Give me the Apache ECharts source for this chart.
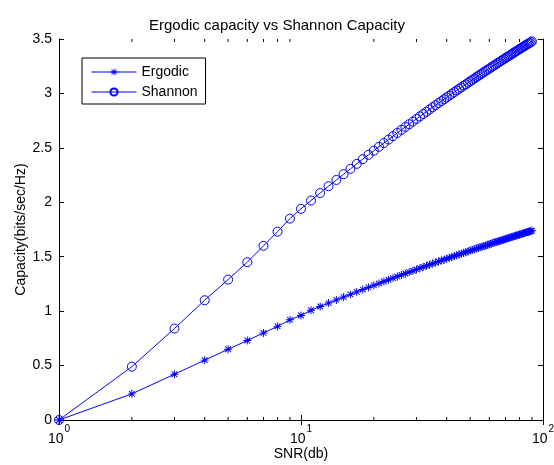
<!DOCTYPE html>
<html>
<head>
<meta charset="utf-8">
<script src="https://cdn.jsdelivr.net/npm/echarts@6/dist/echarts.min.js"></script>
<style>html,body{margin:0;padding:0;background:#fff;}#c{width:554px;height:465px;}</style>
</head>
<body>
<div id="c"></div>
<script>
const snr = [1,2,3,4,5,6,7,8,9,10,11,12,13,14,15,16,17,18,19,20,21,22,23,24,25,26,27,28,29,30,
31,32,33,34,35,36,37,38,39,40,41,42,43,44,45,46,47,48,49,50,51,52,53,54,55,56,57,58,59,60,
61,62,63,64,65,66,67,68,69,70,71,72,73,74,75,76,77,78,79,80,81,82,83,84,85,86,87,88,89,90];
const shannon = [0,0.49,0.84,1.10,1.29,1.45,1.60,1.73,1.85,1.94,2.016,2.085,2.148,2.205,2.258,2.307,2.353,2.396,2.436,2.474,
2.510,2.544,2.576,2.607,2.637,2.665,2.692,2.717,2.742,2.766,2.789,2.811,2.832,2.853,2.873,2.892,2.911,2.929,2.946,2.963,
2.980,2.996,3.012,3.027,3.042,3.056,3.071,3.084,3.098,3.111,3.124,3.136,3.149,3.161,3.173,3.184,3.196,3.207,3.218,3.228,
3.239,3.249,3.259,3.269,3.279,3.288,3.298,3.307,3.316,3.325,3.334,3.342,3.351,3.359,3.367,3.376,3.384,3.391,3.399,3.407,
3.414,3.422,3.429,3.436,3.444,3.451,3.457,3.464,3.471,3.478];
const ergodic = [0,0.24,0.42,0.55,0.65,0.73,0.80,0.86,0.92,0.96,1.008,1.043,1.074,1.103,1.129,1.154,1.177,1.198,1.218,1.237,
1.255,1.272,1.288,1.304,1.319,1.333,1.346,1.359,1.371,1.383,1.395,1.406,1.416,1.427,1.437,1.446,1.456,1.465,1.473,1.482,
1.490,1.498,1.506,1.514,1.521,1.528,1.536,1.542,1.549,1.556,1.562,1.568,1.575,1.581,1.587,1.592,1.598,1.604,1.609,1.614,
1.620,1.625,1.630,1.635,1.640,1.644,1.649,1.654,1.658,1.663,1.667,1.671,1.676,1.680,1.684,1.688,1.692,1.696,1.700,1.704,
1.707,1.711,1.715,1.718,1.722,1.726,1.729,1.732,1.736,1.739];
const minorTicks = [2,3,4,5,6,7,8,9,20,30,40,50,60,70,80,90];
const titleText = 'Ergodic capacity vs Shannon Capacity';
const xName = 'SNR(db)';
const yName = 'Capacity(bits/sec/Hz)';
const seriesNames = ['Ergodic','Shannon'];

const FONT = '"Liberation Sans", Arial, Helvetica, sans-serif';
const BLUE = '#0000ff';
const starPath = 'path://M-1.2,-10L1.2,-10L1.2,10L-1.2,10Z M-10,-1.2L10,-1.2L10,1.2L-10,1.2Z M-7.92,-6.22L-6.22,-7.92L7.92,6.22L6.22,7.92Z M6.22,-7.92L7.92,-6.22L-6.22,7.92L-7.92,6.22Z';

const chart = echarts.init(document.getElementById('c'), null, {renderer:'canvas'});
const pairs = (ys) => snr.map((x,i)=>[x, ys[i]]);

chart.setOption({
  animation: false,
  backgroundColor: '#fff',
  textStyle: {fontFamily: FONT},
  title: {
    text: titleText, left: 'center', top: 13,
    textStyle: {fontFamily: FONT, fontSize: 15, fontWeight: 'normal', color: '#000'}
  },
  legend: {
    data: seriesNames,
    orient: 'vertical',
    left: 82, top: 58,
    backgroundColor: '#fff',
    borderColor: '#000', borderWidth: 1, borderRadius: 0,
    padding: [7, 8, 5, 9],
    itemWidth: 45, itemHeight: 9, itemGap: 6,
    lineStyle: {width: 1},
    textStyle: {fontFamily: FONT, fontSize: 14, color: '#000'}
  },
  grid: {left: 59, right: 11, top: 39, bottom: 45, containLabel: false, outerBoundsMode: 'none'},
  xAxis: [{
    type: 'log', logBase: 10, min: 1, max: 100,
    position: 'bottom',
    name: xName, nameLocation: 'middle', nameGap: 27,
    nameMoveOverlap: false,
    nameTextStyle: {fontFamily: FONT, fontSize: 14, color: '#000'},
    axisLine: {show: true, lineStyle: {color: '#000', width: 1}},
    axisTick: {show: true, inside: true, length: 5, lineStyle: {color: '#000'}},
    splitLine: {show: false},
    axisLabel: {
      margin: 4,
      formatter: (v) => '{b|10}{s|' + Math.round(Math.log10(v)) + '}',
      rich: {
        b: {fontFamily: FONT, fontSize: 14, color: '#000', verticalAlign: 'bottom', lineHeight: 22},
        s: {fontFamily: FONT, fontSize: 10, color: '#000', verticalAlign: 'top', lineHeight: 22, padding: [0,0,0,1]}
      }
    }
  },{
    type: 'log', logBase: 10, min: 1, max: 100,
    position: 'top',
    axisLine: {show: true, lineStyle: {color: '#000', width: 1}},
    axisTick: {show: true, inside: true, length: 5, lineStyle: {color: '#000'}},
    axisLabel: {show: false},
    splitLine: {show: false}
  }],
  yAxis: [{
    type: 'value', min: 0, max: 3.5, interval: 0.5,
    position: 'left',
    name: yName, nameLocation: 'middle', nameGap: 31, nameRotate: 90,
    nameMoveOverlap: false,
    nameTextStyle: {fontFamily: FONT, fontSize: 14, color: '#000'},
    axisLine: {show: true, lineStyle: {color: '#000', width: 1}},
    axisTick: {show: true, inside: true, length: 5, lineStyle: {color: '#000'}},
    axisLabel: {margin: 7, fontFamily: FONT, fontSize: 14, color: '#000'},
    splitLine: {show: false}
  },{
    type: 'value', min: 0, max: 3.5, interval: 0.5,
    position: 'right',
    axisLine: {show: true, lineStyle: {color: '#000', width: 1}},
    axisTick: {show: true, inside: true, length: 5, lineStyle: {color: '#000'}},
    axisLabel: {show: false},
    splitLine: {show: false}
  }],
  series: [{
    name: seriesNames[0], type: 'line',
    xAxisIndex: 0, yAxisIndex: 0,
    data: pairs(ergodic),
    symbol: starPath, symbolSize: 8, showAllSymbol: true,
    lineStyle: {color: BLUE, width: 1},
    itemStyle: {color: BLUE},
    emphasis: {disabled: true}
  },{
    name: seriesNames[1], type: 'line',
    xAxisIndex: 0, yAxisIndex: 0,
    data: pairs(shannon),
    symbol: 'circle', symbolSize: 9, showAllSymbol: true,
    lineStyle: {color: BLUE, width: 1},
    itemStyle: {color: 'rgba(0,0,0,0)', borderColor: BLUE, borderWidth: 1},
    emphasis: {disabled: true}
  },{
    name: 'minor', type: 'custom',
    xAxisIndex: 0, yAxisIndex: 0,
    data: minorTicks.map(v => [v, 0]),
    silent: true, clip: false,
    renderItem: function (params, api) {
      const cs = params.coordSys;
      const x = api.coord([api.value(0), 0])[0];
      const yb = cs.y + cs.height, yt = cs.y;
      return {type: 'group', children: [
        {type: 'line', shape: {x1: x, y1: yb, x2: x, y2: yb - 3}, style: {stroke: '#000', lineWidth: 1}},
        {type: 'line', shape: {x1: x, y1: yt, x2: x, y2: yt + 3}, style: {stroke: '#000', lineWidth: 1}}
      ]};
    }
  }]
});
</script>
</body>
</html>
